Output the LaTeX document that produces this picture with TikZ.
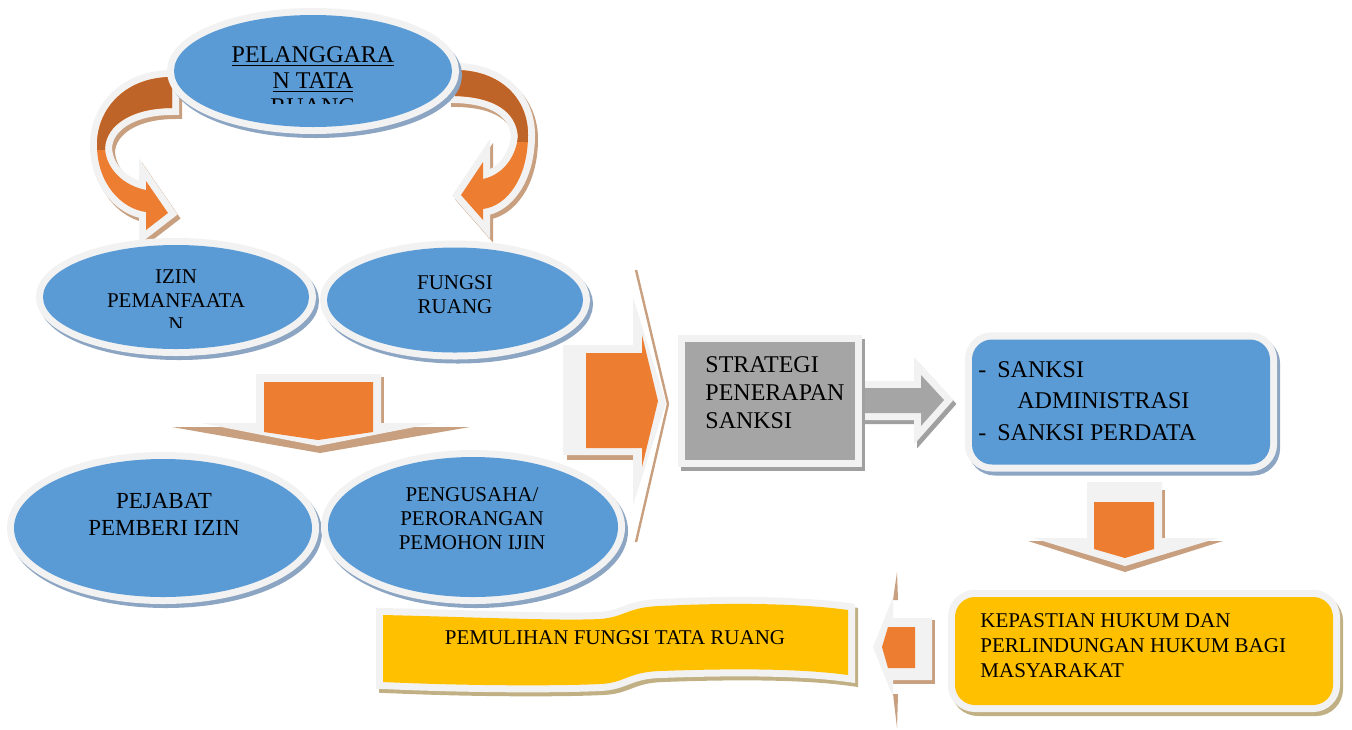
\documentclass[tikz,border=0pt]{standalone}
\usepackage{fontspec}
\setmainfont{Liberation Serif}
\usetikzlibrary{shapes.geometric,positioning}
\definecolor{skyblue}{RGB}{91,155,213}
\definecolor{brightorange}{RGB}{237,125,49}
\definecolor{burntorange}{RGB}{190,100,40}
\definecolor{goldyellow}{RGB}{255,192,0}
\definecolor{boxgrey}{RGB}{165,165,165}
\definecolor{rimwhite}{RGB}{242,242,242}
\definecolor{tanshade}{RGB}{200,160,128}
\definecolor{khakishade}{RGB}{192,176,132}
\definecolor{steelshade}{RGB}{140,165,195}
\definecolor{greyshade}{RGB}{160,160,160}

\begin{document}
\begin{tikzpicture}[x=0.5pt,y=-0.5pt,
    rimmed/.style={preaction={draw=rimwhite,line width=7pt}},
    shadowed/.style={preaction={fill=#1,draw=#1,line width=7pt,transform canvas={shift={(1.5pt,-2pt)}}}},
    bubble/.style={ellipse,shadowed=steelshade,rimmed,fill=skyblue,inner sep=0pt},
    panel/.style={rectangle,inner sep=0pt,rimmed},
    txt/.style={inner sep=0pt,align=center,font=\fontsize{10.5}{12}\selectfont}]
    \useasboundingbox (0,0) rectangle (1352,729);

    % curved arrows around the top ellipse
    \path[shadowed=tanshade,rimmed,fill=brightorange,
          path picture={\fill[burntorange] (0,0) rectangle (1352,150);}]
        (172,77) .. controls (126,77) and (97,108) .. (97,145)
        .. controls (97,184) and (122,209) .. (146,212)
        -- (146,230) -- (168,213) -- (146,181) -- (146,190)
        .. controls (125,186) and (106,170) .. (105,148)
        .. controls (106,125) and (132,108) .. (172,108) -- cycle;
    \path[shadowed=tanshade,rimmed,fill=brightorange,
          path picture={\fill[burntorange] (0,0) rectangle (1352,142);}]
        (455,70) .. controls (500,70) and (528,98) .. (528,135)
        .. controls (528,178) and (507,206) .. (483,209)
        -- (483,220) -- (461,195) -- (483,162) -- (483,179)
        .. controls (502,175) and (516,158) .. (518,136)
        .. controls (516,112) and (495,97) .. (455,96) -- cycle;

    % ellipses
    \node[bubble,minimum width=139pt,minimum height=56pt] (pelanggaran) at (313,71) {};
    \node[bubble,minimum width=133pt,minimum height=52pt] (izin) at (176,297) {};
    \node[bubble,minimum width=128pt,minimum height=52.5pt] (fungsi) at (455,300) {};
    \node[bubble,minimum width=149pt,minimum height=69pt] (pejabat) at (163,528) {};
    \node[bubble,minimum width=145pt,minimum height=70pt] (pengusaha) at (473,527) {};

    \begin{scope}
        \clip (150,0) rectangle (480,103);
        \node[txt,font=\fontsize{12}{13}\selectfont] (pelanggarantxt) at (313,83)
            {\underline{PELANGGARA}\\\underline{N TATA}\\\underline{RUANG}};
    \end{scope}
    \begin{scope}
        \clip (40,240) rectangle (310,327);
        \node[txt] (izintxt) at (176,301) {IZIN\\PEMANFAATA\\N};
    \end{scope}
    \node[txt] (fungsitxt) at (455,295) {FUNGSI\\RUANG};
    \node[txt,font=\fontsize{11.5}{13.5}\selectfont] (pejabattxt) at (164,514) {PEJABAT\\PEMBERI IZIN};
    \node[txt] (pengusahatxt) at (472,519) {PENGUSAHA/\\PERORANGAN\\PEMOHON IJIN};

    % down arrow under the first row
    \fill[tanshade] (172,427) -- (470,427) -- (320,453) -- cycle;
    \fill[tanshade] (378,377) rectangle (384,425);
    \fill[rimwhite] (256,374) -- (381,374) -- (381,423) -- (435,423) -- (318,446)
        -- (201,423) -- (256,423) -- cycle;
    \fill[brightorange] (264,382) -- (373,382) -- (373,432) -- (318,440) -- (264,432) -- cycle;

    % big arrow to the strategy box
    \draw[tanshade,line width=1.2pt] (636,270) -- (668,404) -- (636,542);
    \fill[tanshade] (567,455) rectangle (633,460);
    \fill[rimwhite] (563,345) -- (633,345) -- (633,297) -- (666,403) -- (633,505)
        -- (633,455) -- (563,455) -- cycle;
    \fill[brightorange] (586,353) -- (642,353) -- (642,335) -- (658,401) -- (642,467)
        -- (642,448) -- (586,448) -- cycle;

    % grey arrow to the sanctions box
    \path[shadowed=greyshade,rimmed,fill=boxgrey]
        (855,388) -- (921,388) -- (921,375) -- (944,400) -- (921,426) -- (921,413)
        -- (855,413) -- cycle;

    % boxes
    \node[panel,shadowed=greyshade,rimmed,fill=boxgrey,minimum width=85pt,minimum height=59pt]
        (strategi) at (770,401) {};
    \node[txt,anchor=west,align=left,font=\fontsize{12}{14}\selectfont] (strategitxt) at (705,393)
        {STRATEGI\\PENERAPAN\\SANKSI};
    \node[panel,rounded corners=10pt,shadowed=steelshade,rimmed,fill=skyblue,
          minimum width=149pt,minimum height=62.5pt] (sanksi) at (1121,402) {};
    \node[txt,anchor=west,align=left,font=\fontsize{12}{15.75}\selectfont] (sanksitxt) at (978,401)
        {\makebox[9.5pt][l]{-}SANKSI\\\hspace*{19.5pt}ADMINISTRASI\\\makebox[9.5pt][l]{-}SANKSI PERDATA};

    % down arrow under the sanctions box
    \fill[tanshade] (1028,541) -- (1223,541) -- (1125,572) -- cycle;
    \fill[tanshade] (1162,490) rectangle (1165,540);
    \fill[rimwhite] (1087,482) -- (1162,482) -- (1162,538) -- (1218,538) -- (1125,566)
        -- (1033,538) -- (1087,538) -- cycle;
    \fill[brightorange] (1094,502) -- (1154,502) -- (1154,549) -- (1125,558) -- (1094,549) -- cycle;

    \node[panel,rounded corners=10pt,shadowed=khakishade,rimmed,fill=goldyellow,
          minimum width=189pt,minimum height=54pt] (kepastian) at (1144,651) {};
    \node[txt,anchor=west,align=left,font=\fontsize{10.5}{12.5}\selectfont] (kepastiantxt) at (980,646)
        {KEPASTIAN HUKUM DAN\\PERLINDUNGAN HUKUM BAGI\\MASYARAKAT};

    % left arrow to the banner
    \fill[tanshade] (893,600) -- (897,572) -- (898,600) -- cycle;
    \fill[tanshade] (893,694) -- (897,728) -- (898,694) -- cycle;
    \fill[tanshade] (893,680) rectangle (935,684);
    \fill[tanshade] (932,620) rectangle (935,684);
    \fill[rimwhite] (932,618) -- (893,618) -- (893,597) -- (873,647) -- (893,697)
        -- (893,680) -- (932,680) -- cycle;
    \fill[brightorange] (915,627) -- (888,627) -- (882,647) -- (888,668) -- (915,668) -- cycle;

    % banner
    \path[shadowed=khakishade,rimmed,fill=goldyellow]
        (383,615) .. controls (470,617) and (560,621) .. (600,619)
        .. controls (625,617) and (628,607) .. (660,606)
        .. controls (740,602) and (805,604) .. (848,610) -- (848,675)
        .. controls (805,669) and (740,668) .. (660,671)
        .. controls (628,672) and (625,683) .. (600,684)
        .. controls (560,686) and (470,686) .. (383,682) -- cycle;
    \node[txt] (pemulihan) at (615,638) {PEMULIHAN FUNGSI TATA RUANG};
\end{tikzpicture}
\end{document}
